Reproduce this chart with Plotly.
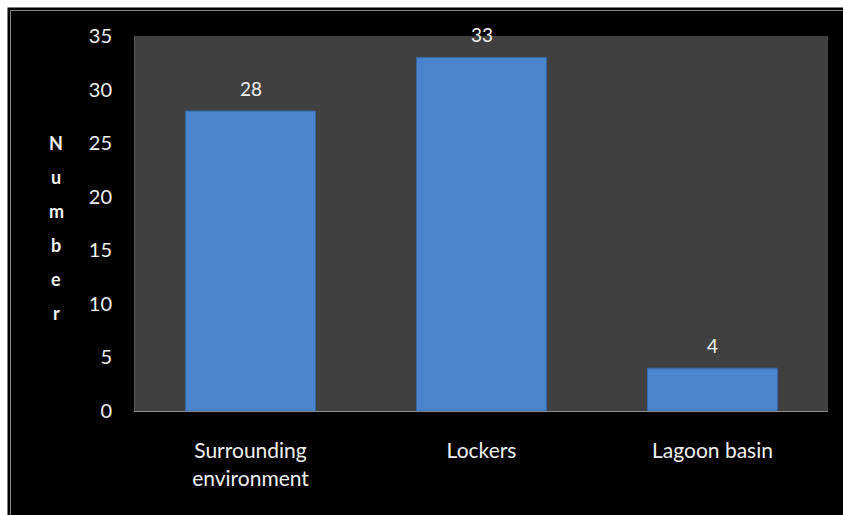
import plotly.graph_objects as go

categories = ["Surrounding<br>environment", "Lockers", "Lagoon basin"]
values = [28, 33, 4]
y_ticks = [0, 5, 10, 15, 20, 25, 30, 35]
y_title = "Number"

W, H = 843, 515
ML, MR, MT, MB = 135, 15, 36, 104
PW, PH = W - ML - MR, H - MT - MB

def px_x(p):
    return (p - ML) / PW

def px_y(p):
    return (H - MB - p) / PH

FONT = "Lato, 'Open Sans', sans-serif"
TXT = "#f2f2f2"

fig = go.Figure()
fig.add_trace(go.Bar(
    x=categories, y=values, width=0.563,
    marker=dict(color="#4a84cc", line=dict(color="#3568a8", width=1)),
    hoverinfo="skip",
))

for c, v in zip(categories, values):
    fig.add_annotation(x=c, y=v, xref="x", yref="y", text=str(v), showarrow=False,
                       yshift=23, xanchor="center", yanchor="middle",
                       font=dict(family=FONT, size=19, color=TXT))

# vertical stacked title letters
for i, ch in enumerate(y_title):
    fig.add_annotation(x=px_x(56), y=px_y(143 + i * 34), xref="paper", yref="paper",
                       text="<b>" + ch + "</b>", showarrow=False,
                       xanchor="center", yanchor="middle",
                       font=dict(family=FONT, size=18, color=TXT))

# page frame: white strips on top/left, thin gray inner border
fig.add_shape(type="rect", xref="paper", yref="paper",
              x0=px_x(0), x1=px_x(W + 5), y0=px_y(7.5), y1=px_y(-5),
              fillcolor="white", line=dict(width=0))
fig.add_shape(type="rect", xref="paper", yref="paper",
              x0=px_x(-5), x1=px_x(7.5), y0=px_y(H + 5), y1=px_y(0),
              fillcolor="white", line=dict(width=0))
fig.add_shape(type="path", xref="paper", yref="paper",
              path=f"M {px_x(10.5)} {px_y(H + 5)} L {px_x(10.5)} {px_y(10.5)} L {px_x(W + 5)} {px_y(10.5)}",
              line=dict(color="#8a8a8a", width=1))

fig.update_layout(
    width=W, height=H,
    margin=dict(l=ML, r=MR, t=MT, b=MB),
    paper_bgcolor="black",
    plot_bgcolor="#404040",
    showlegend=False,
    font=dict(family=FONT, size=20, color=TXT),
    xaxis=dict(range=[-0.5, 2.5], showgrid=False, zeroline=False,
               showline=True, linecolor="#8c8c8c", linewidth=1,
               ticks="", ticklabelstandoff=21,
               tickfont=dict(family=FONT, size=21, color=TXT)),
    yaxis=dict(range=[0, 35], tickvals=y_ticks, showgrid=False, zeroline=False,
               showline=True, linecolor="#595959", linewidth=1,
               ticks="", ticklabelstandoff=18,
               tickfont=dict(family=FONT, size=20, color=TXT)),
)

fig.write_html("out.html")
